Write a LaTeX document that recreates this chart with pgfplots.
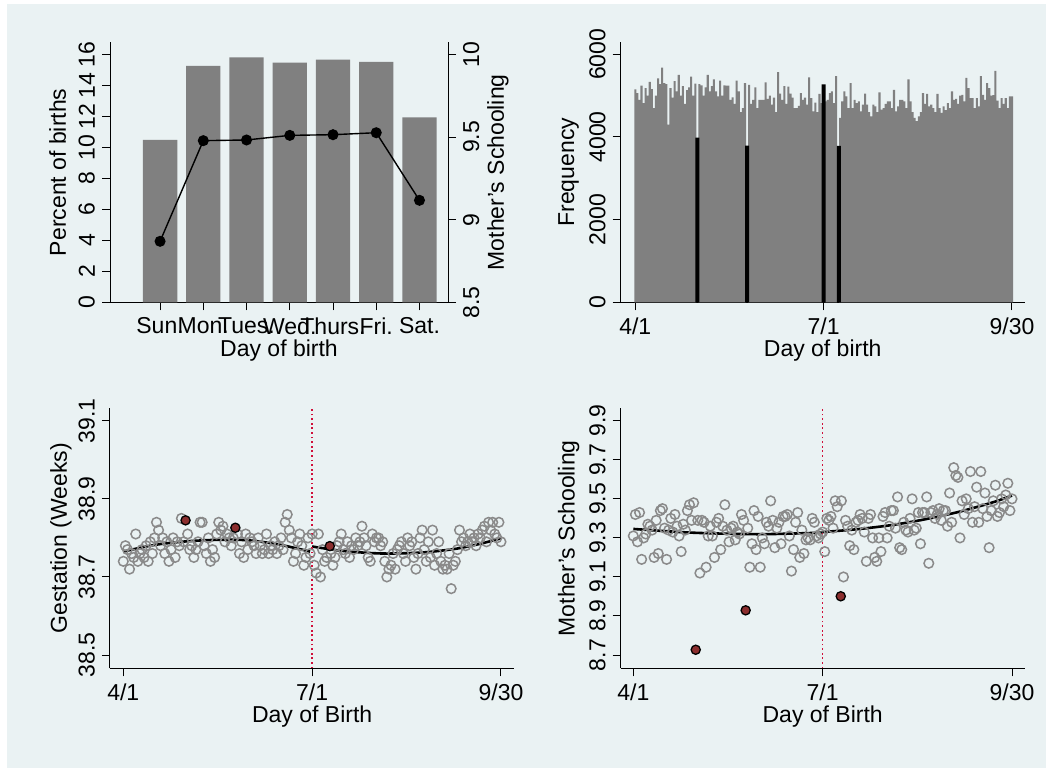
\documentclass[border=0pt]{standalone}
\usepackage{pgfplots}
\pgfplotsset{compat=1.18}
\usepackage{fontspec}
\setmainfont{Liberation Sans}

\definecolor{bg}{HTML}{EAF2F3}
\definecolor{bargray}{HTML}{808080}
\definecolor{circgray}{HTML}{8A8A8A}
\definecolor{dotred}{HTML}{8B2E2E}
\definecolor{vred}{HTML}{D0103A}

\pgfplotsset{
  stata/.style={
    scale only axis, anchor=south west,
    axis x line*=bottom, axis y line*=left,
    axis line style={black, line width=0.5pt, -},
    tick align=outside, major tick length=4pt,
    tick style={black, line width=0.5pt},
    yticklabel style={rotate=90, anchor=south},
    /pgf/number format/assume math mode=true,
    /pgf/number format/1000 sep={},
    xlabel style={at={(axis description cs:0.5,-0.184)}, anchor=center},
  },
  circ/.style={only marks, mark=o, mark size=2.4pt, color=circgray,
    mark options={line width=0.75pt}},
  reddot/.style={only marks, mark=*, mark size=2.3pt,
    mark options={fill=dotred, draw=black, line width=0.65pt}},
  fit/.style={black, line width=1.3pt, smooth, no markers},
  vline/.style={vred, line width=0.8pt, dash pattern=on 0.9pt off 1.4pt},
}

\begin{document}
\begin{tikzpicture}[font=\fontsize{11.5}{13.8}\selectfont]
\fill[bg] (3.5pt,0pt) rectangle (523pt,382pt);

% ---- top left: percent of births by weekday, schooling line
\begin{axis}[stata, at={(55pt,232.85pt)}, width=169pt, height=130pt,
  ybar, bar width=0.795, bar shift=0pt,
  xmin=-1.158, xmax=6.66, ymin=0, ymax=16.77,
  xtick={0,...,6}, xticklabels={Sun.,Mon.,Tues.,Wed.,Thurs.,Fri.,Sat.},
  ytick={0,2,...,16},
  xlabel={Day of birth}, ylabel={Percent of births},
  ylabel style={at={(axis description cs:-0.155,0.5)}, anchor=center}]
\addplot[fill=bargray, draw=none] coordinates {
  (0,10.47) (1,15.25) (2,15.79) (3,15.46) (4,15.66) (5,15.50) (6,11.92)};
\end{axis}
\begin{axis}[stata, at={(55pt,232.85pt)}, width=169pt, height=130pt,
  axis y line*=right, axis x line=none,
  xmin=-1.158, xmax=6.66, ymin=8.5, ymax=10.073,
  ytick={8.5,9,9.5,10}, yticklabels={8.5,9,9.5,10},
  yticklabel style={anchor=north},
  ylabel={Mother's Schooling},
  ylabel style={at={(axis description cs:1.148,0.5)}, anchor=center}]
\addplot[black, line width=0.7pt, mark=*, mark size=2.4pt] coordinates {
  (0,8.869) (1,9.478) (2,9.482) (3,9.510) (4,9.514) (5,9.526) (6,9.117)};
\end{axis}

% ---- top right: births per day
\begin{axis}[stata, at={(310.35pt,232.85pt)}, width=202pt, height=130pt,
  ybar, bar shift=0pt,
  xmin=-7.05, xmax=188.14, ymin=0, ymax=6290,
  xtick={0,91,182}, xticklabels={4/1,7/1,9/30},
  ytick={0,2000,4000,6000},
  xlabel={Day of birth}, ylabel={Frequency},
  ylabel style={at={(axis description cs:-0.1287,0.5)}, anchor=center}]
\addplot[fill=bargray, draw=none, bar width=1] coordinates {
(0,5150) (1,5060) (2,4900) (3,5240) (4,4820) (5,5180) (6,5000) (7,5330) (8,5160) (9,4700)
(10,5000) (11,5420) (12,5280) (13,5680) (14,5300) (15,5280) (16,4300) (17,5180) (18,4950) (19,5350)
(20,5100) (21,5500) (22,5000) (23,5230) (24,4800) (25,5130) (26,5200) (27,5460) (28,5000) (29,5290)
(31,5280) (32,5250) (33,5000) (34,5200) (35,5500) (36,5100) (37,5230) (38,5390) (39,5100)
(40,4980) (41,5360) (42,5000) (43,5250) (44,5240) (45,5240) (46,4900) (47,4960) (48,4800) (49,5360)
(50,5100) (51,4600) (52,4700) (53,5300) (55,5260) (56,4800) (57,4900) (58,5200) (59,4700)
(60,4900) (61,4900) (62,4900) (63,5320) (64,4920) (65,5000) (66,4780) (67,4950) (68,4600) (69,5570)
(70,5050) (71,4900) (72,5230) (73,4800) (74,5220) (75,5050) (76,4950) (77,4700) (78,4700) (79,4750)
(80,5060) (81,4900) (82,4950) (83,4780) (84,5440) (85,4940) (86,4620) (87,4830) (88,4600) (89,5040)
(90,4820) (92,4860) (93,4900) (94,5060) (95,5100) (96,4820) (97,5470) (99,4460)
(100,4860) (101,5100) (102,4980) (103,4700) (104,5300) (105,4700) (106,4900) (107,4820) (108,4860) (109,4620)
(110,4780) (111,5050) (112,4780) (113,4600) (114,4500) (115,4780) (116,4740) (117,4600) (118,5080) (119,4660)
(120,4700) (121,4800) (122,4860) (123,4860) (124,4700) (125,5140) (126,4620) (127,4740) (128,4900) (129,4900)
(130,4860) (131,4700) (132,5390) (133,4860) (134,4600) (135,4460) (136,4380) (137,4500) (138,4600) (139,5060)
(140,4800) (141,5040) (142,4740) (143,4780) (144,4700) (145,4600) (146,5040) (147,4700) (148,4580) (149,4740)
(150,4650) (151,4820) (152,4700) (153,5100) (154,4900) (155,4920) (156,4800) (157,5000) (158,5020) (159,4860)
(160,5430) (161,5180) (162,4940) (163,4940) (164,4700) (165,4940) (166,4740) (167,5470) (168,5020) (169,4900)
(170,5300) (171,5180) (172,5000) (173,5010) (174,5600) (175,4880) (176,4700) (177,4940) (178,4800) (179,4940)
(180,4700) (181,4980) (182,4980)};
\addplot[fill=black, draw=none, bar width=1.9] coordinates {
  (30,3982) (54,3789) (91,5274) (98.4,3785)};
\end{axis}

% ---- bottom left: gestation
\begin{axis}[stata, at={(55pt,49.85pt)}, width=202.15pt, height=130pt,
  xmin=-6.41, xmax=188.41, ymin=38.466, ymax=39.132,
  xtick={0,91,182}, xticklabels={4/1,7/1,9/30},
  ytick={38.5,38.7,38.9,39.1}, yticklabels={38.5,38.7,38.9,39.1},
  xlabel={Day of Birth}, ylabel={Gestation (Weeks)},
  ylabel style={at={(axis description cs:-0.1212,0.5)}, anchor=center}]
\addplot[circ] coordinates {
(0,38.74) (1,38.78) (2,38.77) (3,38.72) (4,38.76) (5,38.75) (6,38.81) (7,38.74) (8,38.76) (9,38.77)
(10,38.75) (11,38.78) (12,38.74) (13,38.79) (14,38.76) (15,38.80) (16,38.84) (17,38.82) (18,38.78) (19,38.80)
(20,38.76) (21,38.79) (22,38.74) (23,38.77) (24,38.80) (25,38.75) (26,38.79) (27,38.78) (28,38.85) (29,38.79)
(31,38.81) (32,38.77) (33,38.78) (34,38.75) (35,38.77) (36,38.79) (37,38.84) (38,38.84) (39,38.78)
(40,38.76) (41,38.80) (42,38.74) (43,38.77) (44,38.75) (45,38.81) (46,38.84) (47,38.82) (48,38.83) (49,38.79)
(50,38.81) (51,38.80) (52,38.78) (53,38.80) (55,38.81) (56,38.76) (57,38.79) (58,38.75) (59,38.81)
(60,38.77) (61,38.80) (62,38.79) (63,38.78) (64,38.76) (65,38.80) (66,38.78) (67,38.76) (68,38.77) (69,38.81)
(70,38.76) (71,38.78) (72,38.77) (73,38.79) (74,38.76) (75,38.78) (76,38.80) (77,38.77) (78,38.84) (79,38.86)
(80,38.82) (81,38.80) (82,38.74) (83,38.76) (84,38.79) (85,38.81) (86,38.78) (87,38.73) (88,38.75) (89,38.80)
(90,38.76) (91,38.81) (92,38.73) (93,38.71) (94,38.81) (95,38.70) (96,38.77) (97,38.74) (98,38.75)
(100,38.76) (101,38.73) (102,38.75) (103,38.78) (104,38.79) (105,38.81) (106,38.77) (107,38.76) (108,38.79) (109,38.75)
(110,38.78) (111,38.77) (112,38.80) (113,38.78) (114,38.79) (115,38.83) (116,38.80) (117,38.78) (118,38.75) (119,38.74)
(120,38.81) (121,38.79) (122,38.80) (123,38.80) (124,38.78) (125,38.79) (126,38.74) (127,38.70) (128,38.72) (129,38.73)
(130,38.76) (131,38.72) (132,38.77) (133,38.78) (134,38.79) (135,38.76) (136,38.74) (137,38.80) (138,38.78) (139,38.79)
(140,38.75) (141,38.72) (142,38.76) (143,38.80) (144,38.82) (145,38.77) (146,38.74) (147,38.79) (148,38.75) (149,38.82)
(150,38.73) (151,38.76) (152,38.79) (153,38.74) (154,38.72) (155,38.73) (156,38.72) (157,38.76) (158,38.67) (159,38.73)
(160,38.74) (161,38.77) (162,38.82) (163,38.79) (164,38.80) (165,38.78) (166,38.79) (167,38.81) (168,38.79) (169,38.80)
(170,38.78) (171,38.81) (172,38.80) (173,38.82) (174,38.83) (175,38.79) (176,38.84) (177,38.82) (178,38.84) (179,38.81)
(180,38.80) (181,38.84) (182,38.79)};
\addplot[fit] coordinates {(0,38.765) (15,38.782) (30,38.791) (45,38.795) (60,38.794) (75,38.783) (90,38.765)};
\addplot[fit] coordinates {(91,38.778) (105,38.767) (120,38.761) (130,38.760) (145,38.763) (160,38.772) (172,38.785) (182,38.799)};
\addplot[vline] coordinates {(91,38.466) (91,39.132)};
\addplot[reddot] coordinates {(30,38.845) (54,38.826) (99.5,38.779)};
\end{axis}

% ---- bottom right: mother's schooling
\begin{axis}[stata, at={(310.35pt,49.85pt)}, width=202pt, height=130pt,
  xmin=-6.06, xmax=188.1, ymin=8.632, ymax=9.964,
  xtick={0,91,182}, xticklabels={4/1,7/1,9/30},
  ytick={8.7,8.9,9.1,9.3,9.5,9.7,9.9}, yticklabels={8.7,8.9,9.1,9.3,9.5,9.7,9.9},
  xlabel={Day of Birth}, ylabel={Mother's Schooling},
  ylabel style={at={(axis description cs:-0.129,0.5)}, anchor=center}]
\addplot[circ] coordinates {
(0,9.31) (1,9.42) (2,9.28) (3,9.43) (4,9.19) (5,9.30) (6,9.32) (7,9.37) (8,9.36) (9,9.34)
(10,9.20) (11,9.39) (12,9.22) (13,9.44) (14,9.45) (15,9.35) (16,9.19) (17,9.34) (18,9.40) (19,9.33)
(20,9.42) (21,9.36) (22,9.31) (23,9.23) (24,9.37) (25,9.34) (26,9.44) (27,9.47) (28,9.39) (29,9.48)
(31,9.39) (32,9.12) (33,9.39) (34,9.38) (35,9.15) (36,9.31) (37,9.36) (38,9.31) (39,9.20)
(40,9.38) (41,9.40) (42,9.24) (43,9.36) (44,9.47) (45,9.34) (46,9.28) (47,9.35) (48,9.36) (49,9.29)
(50,9.33) (51,9.32) (52,9.42) (53,9.39) (55,9.35) (56,9.15) (57,9.27) (58,9.44) (59,9.24)
(60,9.41) (61,9.15) (62,9.30) (63,9.27) (64,9.38) (65,9.36) (66,9.49) (67,9.39) (68,9.25) (69,9.35)
(70,9.38) (71,9.27) (72,9.41) (73,9.41) (74,9.42) (75,9.31) (76,9.13) (77,9.24) (78,9.38) (79,9.43)
(80,9.20) (81,9.34) (82,9.22) (83,9.29) (84,9.30) (85,9.29) (86,9.40) (87,9.38) (88,9.31) (89,9.30)
(90,9.32) (91,9.33) (92,9.23) (93,9.40) (94,9.39) (95,9.41) (96,9.35) (97,9.49) (98,9.46)
(100,9.49) (101,9.10) (102,9.39) (103,9.36) (104,9.26) (105,9.34) (106,9.24) (107,9.38) (108,9.39) (109,9.42)
(110,9.40) (111,9.33) (112,9.18) (113,9.40) (114,9.42) (115,9.30) (116,9.20) (117,9.18) (118,9.30) (119,9.23)
(120,9.41) (121,9.43) (122,9.30) (123,9.36) (124,9.44) (125,9.44) (126,9.35) (127,9.51) (128,9.25) (129,9.24)
(130,9.38) (131,9.34) (132,9.33) (133,9.40) (134,9.50) (135,9.34) (136,9.35) (137,9.43) (138,9.27) (139,9.43)
(140,9.43) (141,9.51) (142,9.17) (143,9.43) (144,9.44) (145,9.40) (146,9.42) (147,9.45) (148,9.39) (149,9.44)
(150,9.44) (151,9.36) (152,9.53) (153,9.38) (154,9.66) (155,9.62) (156,9.61) (157,9.30) (158,9.49) (159,9.42)
(160,9.50) (161,9.45) (162,9.64) (163,9.38) (164,9.46) (165,9.56) (166,9.38) (167,9.64) (168,9.45) (169,9.53)
(170,9.41) (171,9.25) (172,9.44) (173,9.49) (174,9.57) (175,9.41) (176,9.43) (177,9.50) (178,9.46) (179,9.52)
(180,9.58) (181,9.44) (182,9.50)};
\addplot[fit] coordinates {(0,9.346) (28,9.327) (60,9.319) (91,9.327)};
\addplot[fit] coordinates {(91,9.330) (108,9.345) (125,9.367) (141,9.397) (157,9.435) (173,9.483) (182,9.517)};
\addplot[vline] coordinates {(91,8.632) (91,9.964)};
\addplot[reddot] coordinates {(30,8.727) (54,8.929) (99.7,9.001)};
\end{axis}

\pgfresetboundingbox
\path[use as bounding box] (0pt,0pt) rectangle (523pt,384pt);
\end{tikzpicture}
\end{document}
